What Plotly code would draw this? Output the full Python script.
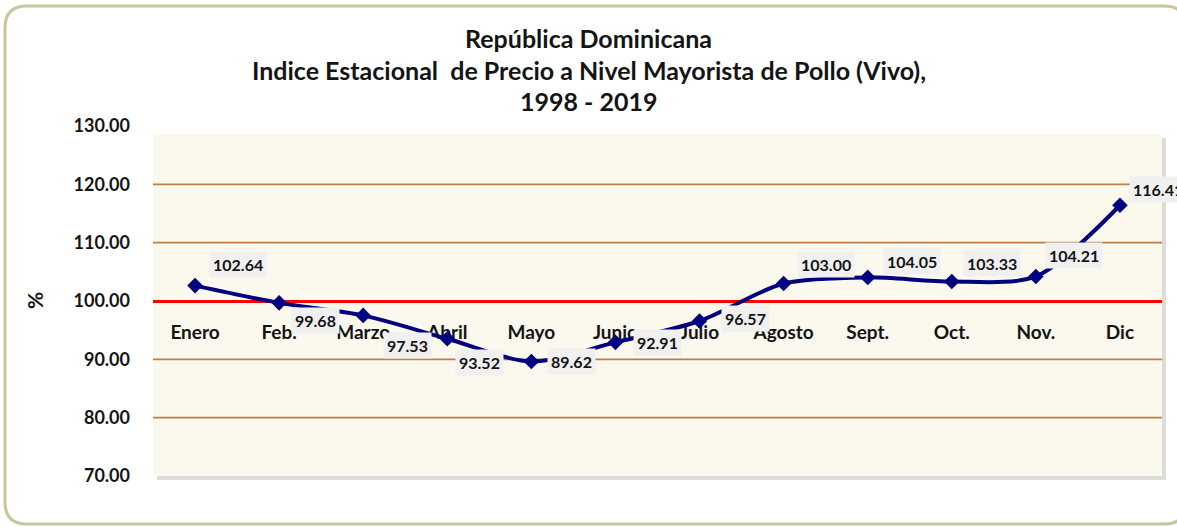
import plotly.graph_objects as go

meses = ["Enero", "Feb.", "Marzo", "Abril", "Mayo", "Junio", "Julio",
         "Agosto", "Sept.", "Oct.", "Nov.", "Dic"]
indice = [102.64, 99.68, 97.53, 93.52, 89.62, 92.91, 96.57,
          103.00, 104.05, 103.33, 104.21, 116.41]
y_ticks = [70, 80, 90, 100, 110, 120, 130]
base = 100
titulo = [
    "República Dominicana",
    "Indice Estacional  de Precio a Nivel Mayorista de Pollo (Vivo),",
    "1998 - 2019",
]

# where each data label sits relative to its point (px, +dy = down)
label_offsets = [(43, -21), (36, 18), (44, 30), (32, 24), (40, 0), (42, 0),
                 (46, -3), (42, -19), (44, -16), (40, -18), (38, -21), (38, -16)]

W, H = 1177, 527
L, R, T, B = 153, 15, 126, 51
PW, PH = W - L - R, H - T - B
FONT = "Lato"
INK = "#141414"


def px_x(px):
    return (px - L) / PW


def px_y(py):
    return (H - B - py) / PH


def rounded_path(x0, y0, x1, y1, r):
    pts = [
        ("M", [(x0 + r, y0)]),
        ("L", [(x1 - r, y0)]), ("Q", [(x1, y0), (x1, y0 + r)]),
        ("L", [(x1, y1 - r)]), ("Q", [(x1, y1), (x1 - r, y1)]),
        ("L", [(x0 + r, y1)]), ("Q", [(x0, y1), (x0, y1 - r)]),
        ("L", [(x0, y0 + r)]), ("Q", [(x0, y0), (x0 + r, y0)]),
    ]
    out = []
    for cmd, ps in pts:
        out.append(cmd + " " + " ".join(f"{px_x(a):.5f},{px_y(b):.5f}" for a, b in ps))
    return " ".join(out) + " Z"


fig = go.Figure()
fig.add_trace(go.Scatter(
    x=meses, y=indice,
    mode="lines+markers",
    line=dict(color="#000080", width=4, shape="spline", smoothing=0.8),
    marker=dict(symbol="diamond", size=12, color="#000080"),
    hoverinfo="x+y",
    showlegend=False,
))

shapes = [
    # outer frame
    dict(type="path", xref="paper", yref="paper", path=rounded_path(5, 6, 1186, 524, 22),
         line=dict(color="#c9c4a0", width=3), fillcolor="rgba(0,0,0,0)", layer="below"),
    # plot area shadow + fill
    dict(type="rect", xref="paper", yref="paper", x0=px_x(L + 4), x1=px_x(L + PW + 4),
         y0=px_y(H - B + 4), y1=px_y(138), fillcolor="#dcdcd8", line_width=0, layer="below"),
    dict(type="rect", xref="paper", yref="paper", x0=0, x1=1, y0=0, y1=px_y(134),
         fillcolor="#fbf8ee", line_width=0, layer="below"),
]
for v in y_ticks[1:-1]:
    if v == base:
        continue
    shapes.append(dict(type="line", xref="paper", yref="y", x0=0, x1=1, y0=v, y1=v,
                       line=dict(color="#c07d45", width=1.6), layer="below"))

annotations = []
for i, (mes, val) in enumerate(zip(meses, indice)):
    dx, dy = label_offsets[i]
    annotations.append(dict(
        x=mes, y=val, xref="x", yref="y", text=f"{val:.2f}", showarrow=False,
        xshift=dx, yshift=-dy, bgcolor="#f0f0f0", borderpad=3,
        font=dict(family=FONT, size=16, color=INK, weight="bold"),
    ))

for line_text, py in zip(titulo, [38, 70, 101]):
    annotations.append(dict(
        x=px_x(W / 2), y=px_y(py), xref="paper", yref="paper", text=line_text,
        showarrow=False, xanchor="center", yanchor="middle",
        font=dict(family=FONT, size=25, color=INK, weight="bold"),
    ))

annotations.append(dict(
    x=px_x(34), y=px_y(301), xref="paper", yref="paper", text="%", textangle=-90,
    showarrow=False, xanchor="center", yanchor="middle",
    font=dict(family=FONT, size=21, color=INK, weight="bold"),
))

fig.update_layout(
    width=W, height=H,
    margin=dict(l=L, r=R, t=T, b=B),
    paper_bgcolor="white",
    plot_bgcolor="rgba(0,0,0,0)",
    shapes=shapes,
    annotations=annotations,
    xaxis=dict(
        type="category", range=[-0.5, len(meses) - 0.5],
        anchor="free", position=(base - y_ticks[0]) / (y_ticks[-1] - y_ticks[0]),
        showline=True, linecolor="#ff0000", linewidth=3,
        showgrid=False, zeroline=False, ticks="", ticklabelstandoff=13,
        tickfont=dict(family=FONT, size=19, color=INK, weight="bold"),
        layer="below traces",
    ),
    yaxis=dict(
        range=[y_ticks[0], y_ticks[-1]], tickvals=y_ticks, tickformat=".2f",
        showgrid=False, zeroline=False, showline=False, ticks="",
        ticklabelstandoff=22,
        tickfont=dict(family=FONT, size=18, color=INK, weight="bold"),
    ),
)

fig.write_html("out.html", config={"displayModeBar": False},
               post_script="document.body.style.margin='0';")
